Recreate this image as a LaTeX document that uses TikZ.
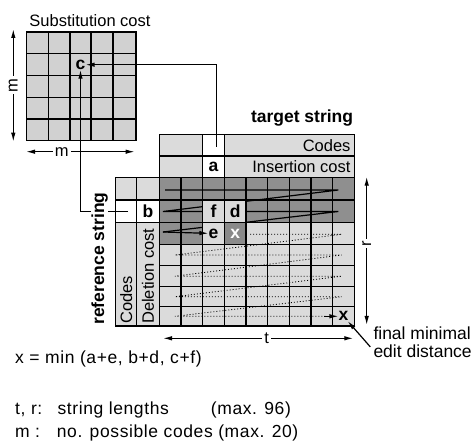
\documentclass[tikz,border=0pt]{standalone}
\usepackage{fontspec}
\setmainfont{Liberation Sans}
\newfontfamily\notefont[LetterSpace=3.5]{Liberation Sans}
\usetikzlibrary{arrows.meta, positioning, calc}
\definecolor{lightgrey}{gray}{0.86}
\definecolor{subgrey}{gray}{0.82}
\definecolor{darkgrey}{gray}{0.56}
\definecolor{xgrey}{gray}{0.54}

\begin{document}
\begin{tikzpicture}[x=1pt, y=-1pt,
	every node/.style={font=\fontsize{16.5}{19}\selectfont, inner sep=0pt},
	lbl/.style={font=\fontsize{17.5}{19}\selectfont\bfseries},
	note/.style={font=\notefont\fontsize{17.5}{21}\selectfont},
	gridline/.style={line width=1.4pt, line cap=rect},
	conn/.style={line width=1.2pt, -{Latex[length=9pt, width=4.5pt]}},
	dimarrow/.style={line width=1.2pt, {Latex[length=9pt, width=4.5pt]}-{Latex[length=9pt, width=4.5pt]}},
	dots/.style={line width=0.8pt, dash pattern=on 1pt off 2pt},
	dimlbl/.style={fill=white, inner sep=2pt}]
	\useasboundingbox (0,0) rectangle (475,444);

	% substitution cost matrix
	\node[anchor=base] (subtitle) at (90,26.7) {Substitution cost};
	\fill[subgrey] (26.3,32) rectangle (136,140.7);
	\foreach \gx in {26.3,48.7,70,91,113,136}
		\draw[gridline] (\gx,32) -- (\gx,140.7);
	\foreach \gy in {32,53.7,75.7,97.3,119,140.7}
		\draw[gridline] (26.3,\gy) -- (136,\gy);
	\node[lbl] (c) at (80.5,64.7) {c};
	\draw[dimarrow] (13.3,29) -- node[dimlbl, rotate=90] (mleft) {m} (13.3,141.7);
	\draw[dimarrow] (26,151.7) -- node[dimlbl, pos=0.33] (mbot) {m} (134.7,151.7);

	% target string header
	\node[lbl, anchor=base east] (target) at (353.3,122.5) {target string};
	\fill[lightgrey] (159.3,134.3) rectangle (354.3,177.7);
	\fill[white] (202.7,134.3) rectangle (224.3,177.7);
	\draw[gridline] (159.3,134.3) rectangle (354.3,177.7);
	\draw[gridline] (159.3,156) -- (354.3,156);
	\draw[gridline] (202.7,134.3) -- (202.7,177.7) (224.3,134.3) -- (224.3,177.7);
	\node[anchor=base east] (tcodes) at (350.7,151.3) {Codes};
	\node[anchor=base east] (inscost) at (350.7,172.8) {Insertion cost};
	\node[lbl] (a) at (213.5,167) {a};
	\coordinate (tcode) at (216.5,147);

	% distance matrix
	\fill[lightgrey] (159.3,177.7) rectangle (354.3,326);
	\fill[darkgrey] (159.3,177.7) rectangle (354.3,222.7);
	\fill[darkgrey] (159.3,222.7) rectangle (202.7,244.3);
	\draw[line width=1.2pt] (165,190) -- (338.3,190) -- (163,211.5) -- (338.3,211.5) -- (163,232);
	\fill[lightgrey] (202.7,200) rectangle (246,222.7);
	\fill[lightgrey] (202.7,222.7) rectangle (224.3,244.3);
	\fill[xgrey] (224.3,222.7) rectangle (246,244.3);
	\draw[dots] (250,234.3) -- (341.7,234.3) -- (175,255) -- (341.7,255) -- (175,276.2)
		-- (341.7,276.2) -- (175,296.7) -- (341.7,296.7) -- (175,316.3) -- (326,316.3);
	\foreach \gx in {159.3,181,202.7,224.3,246,267.7,289.3,311,332.7,354.3}
		\draw[gridline] (\gx,177.7) -- (\gx,326);
	\foreach \gy in {177.7,200,222.7,244.3,265.7,286.7,306.7,326}
		\draw[gridline] (159.3,\gy) -- (354.3,\gy);
	\node[lbl] (f) at (213.5,211.3) {f};
	\node[lbl] (d) at (235.2,211.3) {d};
	\node[lbl] (e) at (213.5,233.5) {e};
	\node[lbl, text=white] (x) at (235.2,233.5) {x};
	\node[lbl] (xfin) at (343.5,316.3) {x};
	\draw[conn] (163,232) -- (e);
	\draw[conn] (324,316.3) -- (xfin);

	% reference string columns
	\fill[lightgrey] (115.7,177.7) rectangle (159.3,326);
	\fill[white] (115.7,200) rectangle (159.3,222.7);
	\draw[gridline] (115.7,177.7) rectangle (159.3,326);
	\draw[gridline] (136.7,177.7) -- (136.7,326);
	\draw[gridline] (115.7,200) -- (159.3,200) (115.7,222.7) -- (159.3,222.7);
	\node[lbl] (b) at (148,211.5) {b};
	\coordinate (rcode) at (128,211.5);
	\node[rotate=90, anchor=west] (rcodes) at (126.2,324) {Codes};
	\node[rotate=90, anchor=west] (delcost) at (148,324) {Deletion cost};

	% lookups
	\draw[conn] (tcode) |- (c);
	\draw[conn] (rcode) -| (c);
	\node[lbl, rotate=90, anchor=base west, fill=white] (refstr) at (104,325) {reference string};

	% sizes
	\draw[dimarrow] (366.7,176.7) -- node[dimlbl, rotate=90, pos=0.45] (rlbl) {r} (366.7,325);
	\draw[dimarrow] (163,338.3) -- node[dimlbl, pos=0.545] (tlbl) {t} (353.3,338.3);

	% notes
	\node[anchor=base west, font=\fontsize{17.5}{20}\selectfont] (final1) at (373.3,340) {final minimal};
	\node[anchor=base west, font=\fontsize{17.5}{20}\selectfont] (final2) at (373.3,357.5) {edit distance};
	\draw[conn] (final1.south west) ++(-3,6.5) -- (xfin);
	\node[note, anchor=base west] (rule) at (15,363.5) {x = min (a+e, b+d, c+f)};
	\node[note, anchor=base west] (tr) at (15,414.5) {t, r:};
	\node[note, anchor=base west] (trtext) at (57.3,414.5) {string lengths};
	\node[note, anchor=base west] (trmax) at (210.7,414.5) {(max. 96)};
	\node[note, anchor=base west] (mm) at (15,437) {m :};
	\node[note, anchor=base west] (mtext) at (56.7,437) {no. possible codes (max. 20)};
\end{tikzpicture}
\end{document}
